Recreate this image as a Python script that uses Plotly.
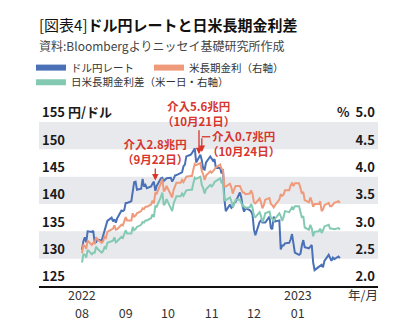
import pandas as pd
import plotly.graph_objects as go

# ---------------- data (business days, Aug 2022 - Jan 2023) ----------------
usdjpy_aug = [131.6, 133.2, 133.9, 133.0, 135.0, 134.9, 135.1, 132.9, 133.0, 133.5, 133.3, 134.2, 135.0, 135.9, 136.9, 137.5, 136.8, 137.2, 136.6, 137.4, 138.8, 138.7, 138.9]
usdjpy_sep = [140.2, 140.2, 140.5, 142.8, 144.0, 144.1, 142.6, 142.8, 144.6, 143.2, 143.5, 142.9, 143.2, 143.7, 144.1, 142.4, 143.3, 144.7, 144.8, 144.2, 144.5, 144.7]
usdjpy_oct = [144.8, 144.1, 144.6, 145.2, 145.3, 145.7, 145.8, 146.9, 147.2, 148.7, 149.0, 149.3, 149.9, 150.2, 147.6, 149.0, 148.0, 146.4, 146.3, 147.6, 148.7]
usdjpy_nov = [148.2, 147.9, 148.2, 146.6, 146.6, 145.6, 146.4, 141.0, 138.7, 139.9, 139.3, 139.5, 140.2, 140.4, 142.1, 141.2, 139.5, 138.6, 139.2, 138.9, 138.6, 138.0]
usdjpy_dec = [135.3, 134.3, 136.7, 137.0, 136.6, 136.6, 136.6, 137.7, 135.6, 135.4, 137.7, 136.8, 137.0, 131.7, 132.4, 132.4, 132.8, 132.9, 133.5, 134.5, 133.0, 131.1]
usdjpy_jan = [130.7, 130.9, 132.4, 133.4, 132.1, 131.9, 132.2, 132.5, 129.3, 127.9, 128.5, 128.7, 128.9, 128.4, 129.6, 130.7, 130.2, 129.6, 130.2, 129.9, 130.4, 130.1]

us10y_aug = [2.60, 2.75, 2.73, 2.68, 2.83, 2.75, 2.79, 2.78, 2.89, 2.85, 2.79, 2.82, 2.90, 2.88, 2.99, 3.04, 3.05, 3.11, 3.03, 3.04, 3.12, 3.11, 3.19]
us10y_sep = [3.26, 3.20, 3.20, 3.33, 3.27, 3.29, 3.33, 3.37, 3.42, 3.41, 3.45, 3.45, 3.49, 3.56, 3.51, 3.70, 3.69, 3.88, 3.96, 3.73, 3.76, 3.83]
us10y_oct = [3.67, 3.62, 3.76, 3.83, 3.89, 3.89, 3.94, 3.90, 3.95, 4.00, 4.01, 4.01, 4.13, 4.23, 4.21, 4.25, 4.10, 4.04, 3.94, 4.02, 4.10]
us10y_nov = [4.07, 4.10, 4.15, 4.17, 4.22, 4.14, 4.12, 3.82, 3.82, 3.87, 3.80, 3.69, 3.77, 3.83, 3.83, 3.76, 3.71, 3.71, 3.68, 3.69, 3.75, 3.68]
us10y_dec = [3.53, 3.51, 3.60, 3.53, 3.42, 3.48, 3.58, 3.61, 3.50, 3.48, 3.44, 3.48, 3.58, 3.68, 3.65, 3.67, 3.75, 3.75, 3.84, 3.88, 3.83, 3.88]
us10y_jan = [3.88, 3.79, 3.69, 3.72, 3.57, 3.53, 3.62, 3.55, 3.45, 3.50, 3.50, 3.55, 3.37, 3.40, 3.48, 3.52, 3.46, 3.46, 3.50, 3.52, 3.55, 3.52]

spread_aug = [2.43, 2.58, 2.57, 2.52, 2.66, 2.58, 2.61, 2.61, 2.72, 2.68, 2.61, 2.64, 2.71, 2.69, 2.79, 2.83, 2.83, 2.89, 2.80, 2.82, 2.90, 2.88, 2.97]
spread_sep = [3.02, 2.96, 2.96, 3.08, 3.02, 3.04, 3.08, 3.12, 3.17, 3.16, 3.20, 3.20, 3.24, 3.31, 3.26, 3.46, 3.45, 3.63, 3.71, 3.48, 3.51, 3.59]
spread_oct = [3.42, 3.37, 3.51, 3.58, 3.64, 3.64, 3.69, 3.65, 3.70, 3.75, 3.76, 3.76, 3.88, 3.98, 3.96, 4.00, 3.85, 3.79, 3.69, 3.77, 3.85]
spread_nov = [3.82, 3.85, 3.90, 3.92, 3.97, 3.89, 3.87, 3.57, 3.57, 3.62, 3.55, 3.44, 3.52, 3.58, 3.58, 3.51, 3.46, 3.46, 3.43, 3.44, 3.50, 3.43]
spread_dec = [3.28, 3.26, 3.35, 3.28, 3.17, 3.23, 3.33, 3.36, 3.25, 3.23, 3.19, 3.23, 3.33, 3.28, 3.19, 3.26, 3.37, 3.35, 3.41, 3.44, 3.41, 3.46]
spread_jan = [3.46, 3.37, 3.25, 3.28, 3.07, 3.03, 3.12, 3.05, 2.91, 2.99, 3.00, 3.05, 2.97, 3.02, 3.09, 3.12, 3.05, 3.05, 3.05, 3.04, 3.06, 3.03]

usdjpy = usdjpy_aug + usdjpy_sep + usdjpy_oct + usdjpy_nov + usdjpy_dec + usdjpy_jan
us10y = us10y_aug + us10y_sep + us10y_oct + us10y_nov + us10y_dec + us10y_jan
spread = spread_aug + spread_sep + spread_oct + spread_nov + spread_dec + spread_jan
dates = [d.strftime("%Y-%m-%d") for d in pd.bdate_range("2022-08-01", "2023-01-31")]

month_ticks = ["2022-08-01", "2022-09-01", "2022-10-01", "2022-11-01", "2022-12-01", "2023-01-01"]
month_labels = ["08", "09", "10", "11", "12", "01"]
year_ticks = ["2022-08-01", "2023-01-01"]
year_labels = ["2022", "2023"]
left_ticks = [125, 130, 135, 140, 145, 150, 155]
left_labels = ["125", "130", "135", "140", "145", "150", "155 円/ドル"]
right_ticks = [2.0, 2.5, 3.0, 3.5, 4.0, 4.5, 5.0]
right_labels = ["2.0", "2.5", "3.0", "3.5", "4.0", "4.5", "%  5.0"]
bands = [(130, 135), (140, 145), (150, 155)]

names = ["ドル円レート", "米長期金利（右軸）", "日米長期金利差（米ー日・右軸）"]
colors = ["#4a71b7", "#ef9a7a", "#84cab3"]
RED = "#d7352d"
FONT = "Noto Sans CJK JP"

W, H = 416, 334
L, R, T, B = 39, 38, 122, 43
pw, ph = W - L - R, H - T - B


def px(x):
    return (x - L) / pw


def py(y):
    return (T + ph - y) / ph


fig = go.Figure()
fig.add_trace(go.Scatter(x=dates, y=spread, yaxis="y2", mode="lines",
                         line=dict(color=colors[2], width=2), showlegend=False))
fig.add_trace(go.Scatter(x=dates, y=us10y, yaxis="y2", mode="lines",
                         line=dict(color=colors[1], width=2), showlegend=False))
fig.add_trace(go.Scatter(x=dates, y=usdjpy, yaxis="y", mode="lines",
                         line=dict(color=colors[0], width=2), showlegend=False))

# legend swatches
for i, lg in enumerate(["legend", "legend2", "legend3"]):
    fig.add_trace(go.Scatter(x=[None], y=[None], mode="lines", name=names[i],
                             line=dict(color=colors[i], width=6), legend=lg))

shapes = []
for lo, hi in bands:
    shapes.append(dict(type="rect", xref="paper", yref="y", x0=0, x1=1, y0=lo, y1=hi,
                       fillcolor="#e8e9ec", line=dict(width=0), layer="below"))
# elbow connector for the 0.7 trillion label
shapes.append(dict(type="line", xref="x", yref="y", x0="2022-10-25", x1="2022-10-31",
                   y0=152.3, y1=152.3, line=dict(color=RED, width=1.3)))

annotations = [
    dict(text="[図表4]<b>ドル円レートと日米長期金利差</b>", xref="paper", yref="paper",
         x=px(37), y=py(22), xanchor="left", yanchor="middle", showarrow=False,
         font=dict(family=FONT, size=15, color="#111")),
    dict(text="資料:Bloombergよりニッセイ基礎研究所作成", xref="paper", yref="paper",
         x=px(37), y=py(43), xanchor="left", yanchor="middle", showarrow=False,
         font=dict(family=FONT, size=12, color="#444")),
    dict(text="年/月", xref="paper", yref="paper", x=px(363), y=py(300),
         xanchor="center", yanchor="middle", showarrow=False,
         font=dict(family=FONT, size=12.5, color="#333")),
    dict(text="<b>介入2.8兆円<br>（9月22日）</b>", x="2022-09-22", y=144.3, ax=0, ay=-29,
         showarrow=True, arrowhead=2, arrowsize=1, arrowwidth=1.3, arrowcolor=RED,
         font=dict(family=FONT, size=11.5, color=RED)),
    dict(text="<b>介入5.6兆円<br>（10月21日）</b>", x="2022-10-23", y=149.1, ax=0, ay=-41,
         showarrow=True, arrowhead=2, arrowsize=1, arrowwidth=1.3, arrowcolor=RED,
         font=dict(family=FONT, size=11.5, color=RED)),
    dict(text="", x="2022-10-25", y=149.5, axref="x", ayref="y", ax="2022-10-25", ay=152.3,
         showarrow=True, arrowhead=2, arrowsize=1, arrowwidth=1.3, arrowcolor=RED),
    dict(text="<b>介入0.7兆円<br>（10月24日）</b>", x="2022-10-27T12:00", y=151.0,
         xanchor="left", yanchor="middle", showarrow=False,
         font=dict(family=FONT, size=11.5, color=RED)),
]
for yt, yl in zip(year_ticks, year_labels):
    annotations.append(dict(text=yl, x=yt, xref="x", yref="paper", y=py(300),
                            xanchor="center", yanchor="middle", showarrow=False,
                            font=dict(family=FONT, size=12.5, color="#333")))

legend_common = dict(orientation="h", xanchor="left", yanchor="top", bgcolor="rgba(0,0,0,0)",
                     font=dict(family=FONT, size=10.5, color="#333"), itemwidth=30)

fig.update_layout(
    width=W, height=H,
    margin=dict(l=L, r=R, t=T, b=B),
    paper_bgcolor="white", plot_bgcolor="white",
    font=dict(family=FONT, color="#222"),
    shapes=shapes, annotations=annotations,
    legend=dict(x=px(31), y=py(51), **legend_common),
    legend2=dict(x=px(149), y=py(51), **legend_common),
    legend3=dict(x=px(31), y=py(66), **legend_common),
    xaxis=dict(type="date", range=["2022-07-01 12:00", "2023-02-27"],
               tickvals=month_ticks, ticktext=month_labels, ticks="",
               ticklabelstandoff=15,
               showgrid=False, zeroline=False, showline=True, linecolor="#111", linewidth=1.5,
               tickfont=dict(family=FONT, size=12.5, color="#333")),
    yaxis=dict(range=[125, 155], tickvals=left_ticks, ticktext=left_labels,
               ticklabelposition="inside top", ticklabeloverflow="allow", ticks="",
               showgrid=False, zeroline=False, showline=False,
               tickfont=dict(family=FONT, size=13, color="#1a1a1a", weight=600)),
    yaxis2=dict(range=[2.0, 5.0], tickvals=right_ticks, ticktext=right_labels,
                overlaying="y", side="right",
                ticklabelposition="inside top", ticklabeloverflow="allow", ticks="",
                showgrid=False, zeroline=False, showline=False,
                tickfont=dict(family=FONT, size=13, color="#1a1a1a", weight=600)),
)

fig.write_html("out.html")
